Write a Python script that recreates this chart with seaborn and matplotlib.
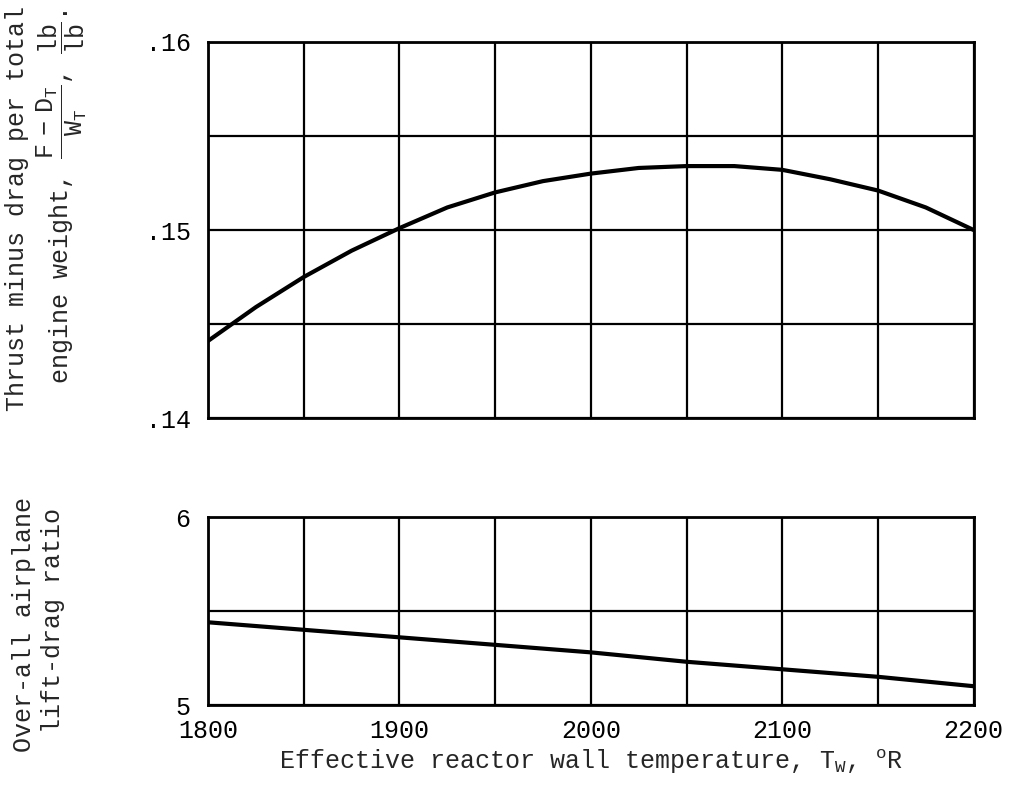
import matplotlib
matplotlib.use("Agg")
import matplotlib.pyplot as plt
import seaborn as sns
import numpy as np

temps_top = [1800, 1825, 1850, 1875, 1900, 1925, 1950, 1975, 2000,
             2025, 2050, 2075, 2100, 2125, 2150, 2175, 2200]
thrust_per_weight = [0.1441, 0.1459, 0.1475, 0.1489, 0.1501, 0.1512, 0.1520, 0.1526, 0.1530,
                     0.1533, 0.1534, 0.1534, 0.1532, 0.1527, 0.1521, 0.1512, 0.1500]
temps_bot = [1800, 1850, 1900, 1950, 2000, 2050, 2100, 2150, 2200]
lift_drag = [5.44, 5.40, 5.36, 5.32, 5.28, 5.23, 5.19, 5.15, 5.10]

top_yticklabels = [".14", "", ".15", "", ".16"]
bot_yticklabels = ["5", "", "6"]
xticklabels = ["1800", "", "1900", "", "2000", "", "2100", "", "2200"]

sns.set_theme(style="white")
FONT = "Liberation Mono"
plt.rcParams["font.family"] = [FONT, "DejaVu Sans Mono"]
plt.rcParams["mathtext.fontset"] = "custom"
plt.rcParams["mathtext.rm"] = FONT
plt.rcParams["mathtext.it"] = FONT
plt.rcParams["mathtext.bf"] = FONT
plt.rcParams["mathtext.sf"] = FONT
plt.rcParams["mathtext.tt"] = FONT
FS = 18

fig = plt.figure(figsize=(10.10, 7.85), dpi=100)
ax1 = fig.add_axes([0.206, 0.4675, 0.758, 0.479])
ax2 = fig.add_axes([0.206, 0.1019, 0.758, 0.2395])

sns.lineplot(x=temps_top, y=thrust_per_weight, ax=ax1, color="black", linewidth=3)
sns.lineplot(x=temps_bot, y=lift_drag, ax=ax2, color="black", linewidth=3)

for ax in (ax1, ax2):
    ax.set_xlim(1800, 2200)
    ax.set_xticks(np.arange(1800, 2201, 50))
    ax.grid(True, color="black", linewidth=1.6)
    for s in ax.spines.values():
        s.set_visible(True)
        s.set_color("black")
        s.set_linewidth(2)
    ax.tick_params(length=0, labelsize=FS, colors="black")
    ax.set_xlabel("")
    ax.set_ylabel("")

ax1.set_ylim(0.14, 0.16)
ax1.set_yticks(np.arange(0.14, 0.1601, 0.005))
ax1.set_yticklabels(top_yticklabels)
ax1.set_xticklabels([])
ax1.tick_params(axis="y", pad=12)

ax2.set_ylim(5, 6)
ax2.set_yticks([5, 5.5, 6])
ax2.set_yticklabels(bot_yticklabels)
ax2.set_xticklabels(xticklabels)
ax2.tick_params(axis="y", pad=13)
ax2.tick_params(axis="x", pad=10)
ax2.set_xlabel(r"Effective reactor wall temperature, T$_W$, $^{\mathrm{o}}$R", fontsize=FS, labelpad=3)

fig.text(0.017, 0.735, "Thrust minus drag per total", rotation=90, ha="center", va="center", fontsize=FS)
fig.text(0.061, 0.75, r"engine weight, $\dfrac{\mathrm{F\ -\ D_T}}{\mathrm{W_T}}$, $\dfrac{\mathrm{lb}}{\mathrm{lb}}$.",
         rotation=90, ha="center", va="center", fontsize=FS)
fig.text(0.024, 0.205, "Over-all airplane", rotation=90, ha="center", va="center", fontsize=FS)
fig.text(0.052, 0.21, "lift-drag ratio", rotation=90, ha="center", va="center", fontsize=FS)

fig.savefig("out.png", dpi=100, facecolor="white")
